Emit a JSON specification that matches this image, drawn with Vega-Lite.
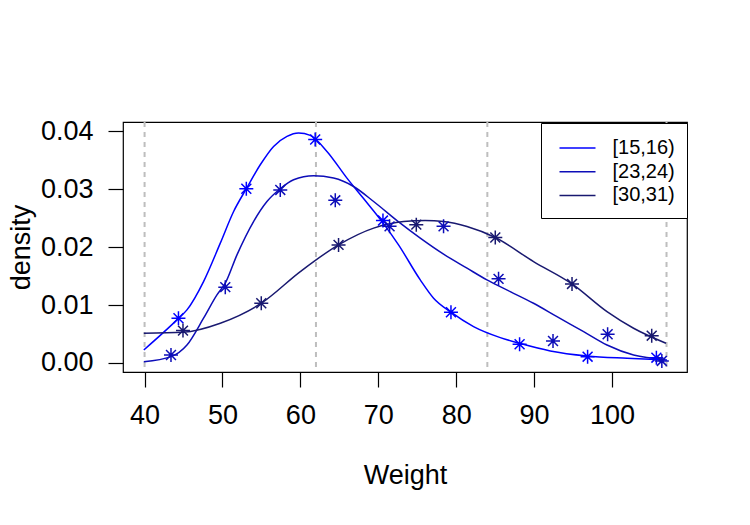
{
  "$schema": "https://vega.github.io/schema/vega-lite/v6.json",
  "width": 564,
  "height": 250,
  "autosize": "none",
  "padding": {"left": 123, "top": 122, "right": 63, "bottom": 153},
  "background": "white",
  "config": {
    "font": "Liberation Sans",
    "view": {"stroke": "black", "strokeWidth": 1.2},
    "axis": {
      "grid": false,
      "domain": false,
      "tickColor": "black",
      "tickSize": 15,
      "tickWidth": 1.2,
      "labelFont": "Liberation Sans",
      "labelFontSize": 27,
      "labelColor": "black",
      "labelPadding": 15,
      "titleFont": "Liberation Sans",
      "titleFontSize": 27,
      "titleFontWeight": "normal",
      "titleColor": "black"
    }
  },
  "datasets": {
    "vlines": [{"x": 40}, {"x": 62}, {"x": 84}, {"x": 107}],
    "curves": [
      {"series": "[15,16)", "x": 39.9, "y": 0.00225},
      {"series": "[15,16)", "x": 44.35, "y": 0.0077},
      {"series": "[15,16)", "x": 45.44, "y": 0.00917},
      {"series": "[15,16)", "x": 47.57, "y": 0.01406},
      {"series": "[15,16)", "x": 49.72, "y": 0.0207},
      {"series": "[15,16)", "x": 51.43, "y": 0.02617},
      {"series": "[15,16)", "x": 53.06, "y": 0.0301},
      {"series": "[15,16)", "x": 54.85, "y": 0.03424},
      {"series": "[15,16)", "x": 56.56, "y": 0.03741},
      {"series": "[15,16)", "x": 58.28, "y": 0.03914},
      {"series": "[15,16)", "x": 59.77, "y": 0.03973},
      {"series": "[15,16)", "x": 61.27, "y": 0.03931},
      {"series": "[15,16)", "x": 63.41, "y": 0.03655},
      {"series": "[15,16)", "x": 65.98, "y": 0.03194},
      {"series": "[15,16)", "x": 68.11, "y": 0.02840},
      {"series": "[15,16)", "x": 70.6, "y": 0.02420},
      {"series": "[15,16)", "x": 72.6, "y": 0.0204},
      {"series": "[15,16)", "x": 75.39, "y": 0.01435},
      {"series": "[15,16)", "x": 77.1, "y": 0.01119},
      {"series": "[15,16)", "x": 79.33, "y": 0.00877},
      {"series": "[15,16)", "x": 82.23, "y": 0.00628},
      {"series": "[15,16)", "x": 85.66, "y": 0.00438},
      {"series": "[15,16)", "x": 88.14, "y": 0.0034},
      {"series": "[15,16)", "x": 92.08, "y": 0.00208},
      {"series": "[15,16)", "x": 96.79, "y": 0.00121},
      {"series": "[15,16)", "x": 101.93, "y": 0.00081},
      {"series": "[15,16)", "x": 107.06, "y": 0.00052},
      {"series": "[23,24)", "x": 39.9, "y": 0.00022},
      {"series": "[23,24)", "x": 43.39, "y": 0.00109},
      {"series": "[23,24)", "x": 45.44, "y": 0.00311},
      {"series": "[23,24)", "x": 47.57, "y": 0.00773},
      {"series": "[23,24)", "x": 49.29, "y": 0.01176},
      {"series": "[23,24)", "x": 50.36, "y": 0.01378},
      {"series": "[23,24)", "x": 51.86, "y": 0.01868},
      {"series": "[23,24)", "x": 53.99, "y": 0.02444},
      {"series": "[23,24)", "x": 55.71, "y": 0.0279},
      {"series": "[23,24)", "x": 57.42, "y": 0.0301},
      {"series": "[23,24)", "x": 59.13, "y": 0.03165},
      {"series": "[23,24)", "x": 61.7, "y": 0.03234},
      {"series": "[23,24)", "x": 64.26, "y": 0.03194},
      {"series": "[23,24)", "x": 66.83, "y": 0.03049},
      {"series": "[23,24)", "x": 69.4, "y": 0.0279},
      {"series": "[23,24)", "x": 72.82, "y": 0.02416},
      {"series": "[23,24)", "x": 75.39, "y": 0.02157},
      {"series": "[23,24)", "x": 78.38, "y": 0.0188},
      {"series": "[23,24)", "x": 81.39, "y": 0.01638},
      {"series": "[23,24)", "x": 83.95, "y": 0.01435},
      {"series": "[23,24)", "x": 86.94, "y": 0.01233},
      {"series": "[23,24)", "x": 89.93, "y": 0.01032},
      {"series": "[23,24)", "x": 92.94, "y": 0.00801},
      {"series": "[23,24)", "x": 96.36, "y": 0.00541},
      {"series": "[23,24)", "x": 99.36, "y": 0.00311},
      {"series": "[23,24)", "x": 102.77, "y": 0.00138},
      {"series": "[23,24)", "x": 106.84, "y": 0.00064},
      {"series": "[30,31)", "x": 39.9, "y": 0.00513},
      {"series": "[30,31)", "x": 44.93, "y": 0.00531},
      {"series": "[30,31)", "x": 49.72, "y": 0.00687},
      {"series": "[30,31)", "x": 54.98, "y": 0.01032},
      {"series": "[30,31)", "x": 59.99, "y": 0.01579},
      {"series": "[30,31)", "x": 64.9, "y": 0.02041},
      {"series": "[30,31)", "x": 69.4, "y": 0.0233},
      {"series": "[30,31)", "x": 73.25, "y": 0.02444},
      {"series": "[30,31)", "x": 76.0, "y": 0.02462},
      {"series": "[30,31)", "x": 78.38, "y": 0.02444},
      {"series": "[30,31)", "x": 81.39, "y": 0.02357},
      {"series": "[30,31)", "x": 85.02, "y": 0.02167},
      {"series": "[30,31)", "x": 89.93, "y": 0.01752},
      {"series": "[30,31)", "x": 94.87, "y": 0.01366},
      {"series": "[30,31)", "x": 99.36, "y": 0.00887},
      {"series": "[30,31)", "x": 102.77, "y": 0.006},
      {"series": "[30,31)", "x": 106.93, "y": 0.00341}
    ],
    "points": [
      {"series": "[15,16)", "x": 44.35, "y": 0.00773},
      {"series": "[15,16)", "x": 53.06, "y": 0.0301},
      {"series": "[15,16)", "x": 61.9, "y": 0.0386},
      {"series": "[15,16)", "x": 70.6, "y": 0.0246},
      {"series": "[15,16)", "x": 79.33, "y": 0.00876},
      {"series": "[15,16)", "x": 88.14, "y": 0.00323},
      {"series": "[15,16)", "x": 96.87, "y": 0.00109},
      {"series": "[15,16)", "x": 105.7, "y": 0.00092},
      {"series": "[23,24)", "x": 43.39, "y": 0.00138},
      {"series": "[23,24)", "x": 50.36, "y": 0.0131},
      {"series": "[23,24)", "x": 57.42, "y": 0.0299},
      {"series": "[23,24)", "x": 64.48, "y": 0.0281},
      {"series": "[23,24)", "x": 71.45, "y": 0.0236},
      {"series": "[23,24)", "x": 78.38, "y": 0.0236},
      {"series": "[23,24)", "x": 85.44, "y": 0.01453},
      {"series": "[23,24)", "x": 92.43, "y": 0.0038},
      {"series": "[23,24)", "x": 99.44, "y": 0.00496},
      {"series": "[23,24)", "x": 106.4, "y": 0.00035},
      {"series": "[30,31)", "x": 44.93, "y": 0.00559},
      {"series": "[30,31)", "x": 54.98, "y": 0.01032},
      {"series": "[30,31)", "x": 64.9, "y": 0.0204},
      {"series": "[30,31)", "x": 74.88, "y": 0.0239},
      {"series": "[30,31)", "x": 85.02, "y": 0.02167},
      {"series": "[30,31)", "x": 94.87, "y": 0.01366},
      {"series": "[30,31)", "x": 105.1, "y": 0.00472}
    ]
  },
  "layer": [
    {
      "data": {"name": "vlines"},
      "mark": {"type": "rule", "color": "#BEBEBE", "strokeWidth": 2, "strokeDash": [5, 5]},
      "encoding": {
        "x": {"field": "x", "type": "quantitative", "scale": {"domain": [37.23, 109.63], "nice": false, "zero": false}}
      }
    },
    {
      "data": {"name": "curves"},
      "mark": {"type": "line", "strokeWidth": 1.5, "interpolate": "monotone"},
      "encoding": {
        "x": {"field": "x", "type": "quantitative", "title": "Weight",
              "scale": {"domain": [37.23, 109.63], "nice": false, "zero": false},
              "axis": {"values": [40, 50, 60, 70, 80, 90, 100], "titlePadding": 34}},
        "y": {"field": "y", "type": "quantitative", "title": "density",
              "scale": {"domain": [-0.00156, 0.04163], "nice": false, "zero": false},
              "axis": {"values": [0, 0.01, 0.02, 0.03, 0.04], "format": ".2f", "titlePadding": 5}},
        "color": {"field": "series", "type": "nominal",
                  "scale": {"domain": ["[15,16)", "[23,24)", "[30,31)"], "range": ["#0000FF", "#0D0DB8", "#191970"]},
                  "legend": {"title": null, "orient": "none", "legendX": 418, "legendY": 1,
                             "fillColor": "white", "strokeColor": "black",
                             "cornerRadius": 0, "padding": 12,
                             "symbolType": "M-1.5,0L1.5,0", "symbolSize": 576, "symbolStrokeWidth": 1.5,
                             "symbolOffset": 11.5,
                             "labelFontSize": 20, "labelFont": "Liberation Sans", "labelColor": "black",
                             "labelOffset": 22, "rowPadding": 0.7}}
      }
    },
    {
      "data": {"name": "points"},
      "mark": {"type": "point", "shape": "M0,-1L0,1M-1,0L1,0M-0.7071,-0.7071L0.7071,0.7071M-0.7071,0.7071L0.7071,-0.7071",
               "filled": false, "size": 196, "strokeWidth": 1.5, "opacity": 1},
      "encoding": {
        "x": {"field": "x", "type": "quantitative"},
        "y": {"field": "y", "type": "quantitative"},
        "color": {"field": "series", "type": "nominal"}
      }
    }
  ]
}
